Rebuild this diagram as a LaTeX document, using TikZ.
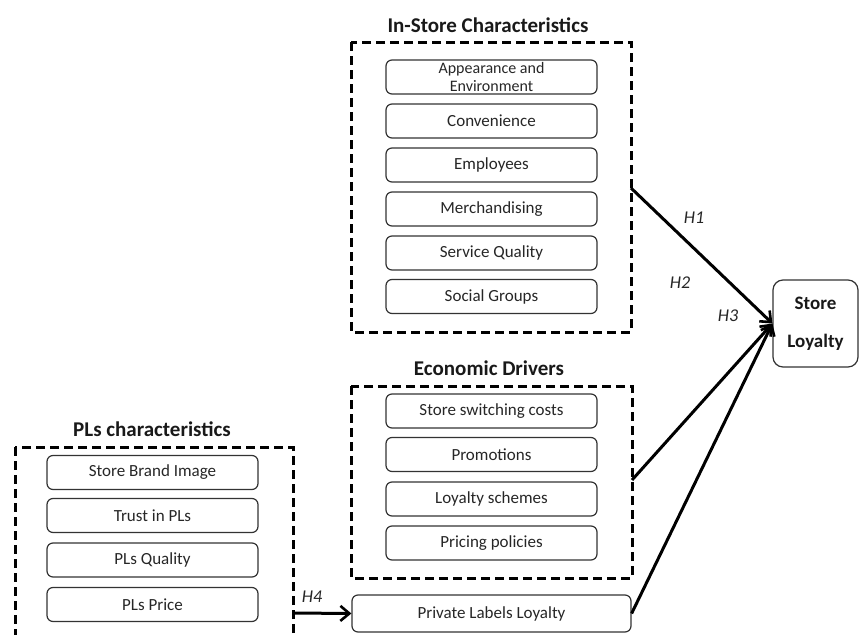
\documentclass[tikz,border=0pt]{standalone}
\usepackage{fontspec}
\setmainfont{Carlito}
\usetikzlibrary{arrows.meta}
\begin{document}
\begin{tikzpicture}[x=1pt,y=-1pt,
  item/.style={draw=black!80, line width=1.2pt, rounded corners=6pt, minimum width=211pt, minimum height=34pt, inner sep=0pt, font=\fontsize{17}{18}\selectfont, text=black!85, align=center},
  group/.style={draw=black, line width=3pt, dash pattern=on 9pt off 5pt},
  gtitle/.style={font=\bfseries\fontsize{21}{22}\selectfont, text=black!90},
  hyp/.style={font=\itshape\fontsize{18}{19}\selectfont, text=black!85},
  link/.style={line width=3pt, -{Straight Barb[length=9pt,width=15pt,line width=2.6pt]}}
]
\useasboundingbox (0,0) rectangle (863,635);
\clip (0,0) rectangle (863,635);

% In-Store Characteristics
\node[gtitle] (t1) at (488,25) {In-Store Characteristics};
\draw[group] (351,42) rectangle (631,332);
\node[item, font=\fontsize{16}{18}\selectfont] (a1) at (491.5,77) {Appearance and\\Environment};
\node[item] (a2) at (491.5,121) {Convenience};
\node[item] (a3) at (491.5,165) {Employees};
\node[item] (a4) at (491.5,209) {Merchandising};
\node[item] (a5) at (491.5,253) {Service Quality};
\node[item] (a6) at (491.5,296.5) {Social Groups};

% Economic Drivers
\node[gtitle] (t2) at (489,368) {Economic Drivers};
\draw[group] (351,386) rectangle (632,578);
\node[item] (b1) at (491.5,411) {Store switching costs};
\node[item] (b2) at (491.5,454.5) {Promotions};
\node[item] (b3) at (491.5,499) {Loyalty schemes};
\node[item] (b4) at (491.5,543) {Pricing policies};

% PLs characteristics
\node[gtitle] (t3) at (152,429) {PLs characteristics};
\draw[group] (15,447) rectangle (293,660);
\node[item] (c1) at (152.5,472.5) {Store Brand Image};
\node[item] (c2) at (152.5,515.5) {Trust in PLs};
\node[item] (c3) at (152.5,560) {PLs Quality};
\node[item] (c4) at (152.5,604.5) {PLs Price};

% Private Labels Loyalty
\node[item, minimum width=279pt, minimum height=37pt] (pll) at (491.5,613.5) {Private Labels Loyalty};

% Store Loyalty
\node[draw=black!80, line width=1.2pt, rounded corners=10pt, minimum width=85pt, minimum height=87pt, inner sep=0pt, align=center, font=\bfseries\fontsize{19}{38}\selectfont, text=black!90] (sl) at (815.5,323.5) {Store\\Loyalty};

% connectors
\coordinate (s1) at (631,188);
\coordinate (s2) at (632,480);
\coordinate (s4) at (293,613);
\draw[link] (s1) -- (sl.west);
\draw[link] (s2) -- (sl.west);
\draw[link] (pll.east) -- (sl.west);
\draw[link] (s4) -- (pll.west);

\node[hyp] (h1) at (694,218) {H1};
\node[hyp] (h2) at (680,283) {H2};
\node[hyp] (h3) at (728,316) {H3};
\node[hyp] (h4) at (312,597) {H4};
\end{tikzpicture}
\end{document}
